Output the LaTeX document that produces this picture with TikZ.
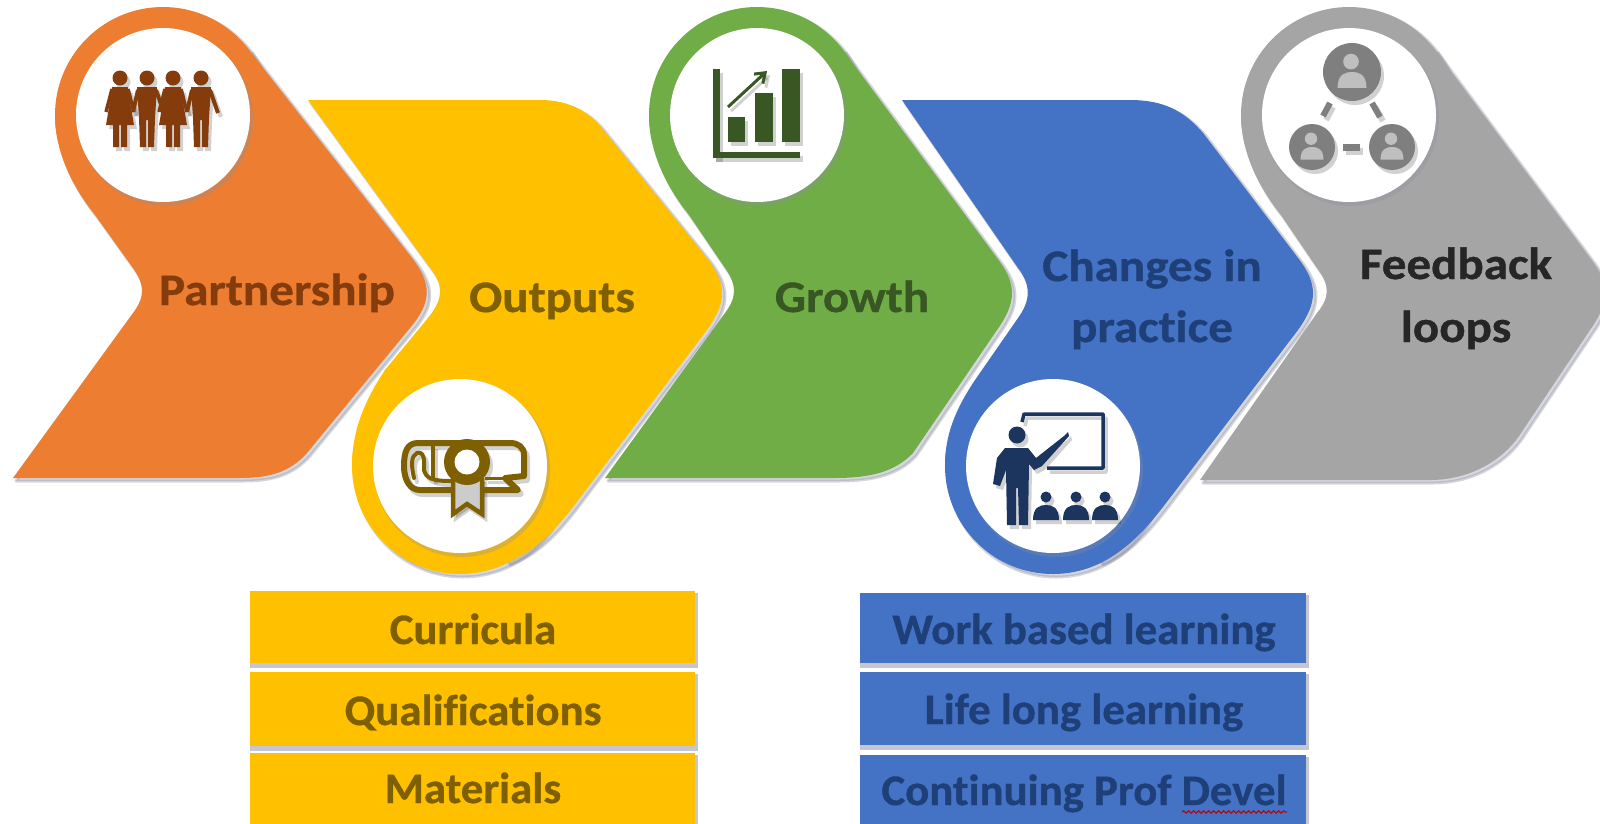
\documentclass[tikz,border=0pt]{standalone}
\usepackage{fontspec}
\setmainfont{Carlito}
\newfontfamily\bigface{Carlito}[Ligatures=NoCommon,BoldFeatures={FakeBold=0.8,FakeStretch=1.09}]
\newfontfamily\listface{Carlito}[Ligatures=NoCommon,BoldFeatures={FakeBold=0.8,FakeStretch=1.03}]
\usetikzlibrary{decorations.pathmorphing,arrows.meta}
\definecolor{corange}{HTML}{ED7D31}\definecolor{dorange}{HTML}{843C0C}
\definecolor{cyellow}{HTML}{FFC000}\definecolor{dyellow}{HTML}{7F6000}
\definecolor{cgreen}{HTML}{70AD47}\definecolor{dgreen}{HTML}{385723}
\definecolor{cblue}{HTML}{4472C4}\definecolor{dblue}{HTML}{1F3F78}
\definecolor{navy}{HTML}{1B355F}
\definecolor{cgray}{HTML}{A5A5A5}\definecolor{dgray}{HTML}{7F7F7F}
\definecolor{shad}{HTML}{8C8FA0}
\tikzset{
 biglabel/.style={anchor=base,font=\bigface\fontsize{45}{45}\selectfont\bfseries,inner sep=0pt},
 listlabel/.style={anchor=base,font=\listface\fontsize{43.5}{44}\selectfont\bfseries,inner sep=0pt},
 softshadow/.style={draw=shad,fill=shad,line width=3pt,opacity=.35,line join=round},
}
% colour, cx, cy, body path
\newcommand{\pinshape}[4]{%
 \begin{scope}[shift={(3,3)}]
  \path[softshadow] #4 -- cycle;
  \path[softshadow] (#2,#3) circle[radius=108];
 \end{scope}
 \fill[#1] #4 -- cycle;
 \fill[#1] (#2,#3) circle[radius=108];
 \fill[shad,opacity=.3] (#2+2,#3+3) circle[radius=88];
 \fill[white] (#2,#3) circle[radius=87];
}
\newcommand{\listbox}[5]{% color, x1,y1,x2,y2
 \fill[shad,opacity=.5] (#2,#3+2) rectangle (#4+3,#5+5);
 \fill[#1] (#2,#3) rectangle (#4,#5);
}
\newcommand{\figfemale}[2]{%
 \fill[#2] (#1,78) circle[radius=7.5];
 \fill[#2] (#1-8,87) -- (#1+8,87) -- (#1+9,96) -- (#1+14,125) -- (#1+7,125) -- (#1+7,147) -- (#1+1,147) -- (#1+1,125) -- (#1-1,125) -- (#1-1,147) -- (#1-7,147) -- (#1-7,125) -- (#1-14,125) -- (#1-9,96) -- cycle;
 \draw[#2,line width=3.5pt] (#1-8,89) -- (#1-14,112);
 \draw[#2,line width=3.5pt] (#1+8,89) -- (#1+14,112);
}
\newcommand{\figmale}[2]{%
 \fill[#2] (#1,78) circle[radius=7.5];
 \fill[#2] (#1-10,87) -- (#1+10,87) -- (#1+8,118) -- (#1+7,147) -- (#1+1,147) -- (#1+1,120) -- (#1-1,120) -- (#1-1,147) -- (#1-7,147) -- (#1-8,118) -- cycle;
 \draw[#2,line width=4pt] (#1-9,90) -- (#1-14,112);
 \draw[#2,line width=4pt] (#1+9,90) -- (#1+17,113);
}
\newcommand{\iconpeople}[1]{%
 \figfemale{120}{#1}\figmale{147}{#1}\figfemale{173}{#1}\figmale{201}{#1}%
}
\newcommand{\icondiploma}[2]{%
 \draw[#1,line width=6pt,line join=round,line cap=round]
   (468,443) -- (418,443) .. controls (407,443) and (404,452) .. (404,466) .. controls (404,480) and (410,490) .. (420,490) -- (518,490) -- (505,478) -- (524,476) -- (524,455) .. controls (524,447) and (518,443) .. (510,443) -- (468,443);
 \draw[#1,line width=4pt,line cap=round] (414,478) .. controls (411,465) and (411,456) .. (417,453) .. controls (423,451) and (425,458) .. (424,470) .. controls (426,478) and (432,481) .. (450,481);
 \draw[#1,line width=4pt] (433,445) -- (433,480);
 \draw[#1,line width=3pt] (485,478) -- (505,478);
 \draw[#1,line width=4.5pt,line join=miter,fill=#2] (453,478) -- (453,514) -- (467,504) -- (482,514) -- (482,478);
 \fill[#1] (467,462) circle[radius=23];
 \fill[white] (467,462) circle[radius=12.5];
}
\newcommand{\iconchart}[1]{%
 \fill[#1] (713,69) rectangle (720,158);
 \fill[#1] (713,152) rectangle (800,158);
 \fill[#1] (728,117) rectangle (745,142);
 \fill[#1] (755,93) rectangle (773,142);
 \fill[#1] (782,69) rectangle (800,142);
 \draw[#1,line width=3pt,-{Straight Barb[length=9pt,width=13pt]}] (728,107) -- (767,71);
}
\newcommand{\iconteacher}[1]{%
 \draw[#1,line width=3.5pt,line join=round] (1022,422) -- (1024,414) -- (1103,414) -- (1103,468) -- (1047,468);
 \fill[#1] (1017,435) circle[radius=8.5];
 \fill[#1] (1005,448) -- (1028,448) -- (1036,458) -- (1064,436) -- (1068,432) -- (1069,436) -- (1042,466) -- (1034,470) -- (1029,464) -- (1028,525) -- (1019,525) -- (1018,488) -- (1016,488) -- (1016,525) -- (1007,525) -- (1006,470) -- (1000,486) -- (993,484) -- (997,458) -- cycle;
 \foreach \hx in {1046,1076,1105}{
  \fill[#1] (\hx,497) circle[radius=5.5];
  \fill[#1] (\hx-13,520) .. controls (\hx-13,507) and (\hx-6,505) .. (\hx,505) .. controls (\hx+6,505) and (\hx+13,507) .. (\hx+13,520) -- cycle;
 }
}
\newcommand{\commperson}[4]{% x,y,r,colour
 \fill[#4] (#1,#2) circle[radius=#3];
 \fill[dgray!50!white] (#1-1,#2-#3*0.36) circle[radius=#3*0.27];
 \fill[dgray!50!white] (#1-#3*0.5,#2+#3*0.55) .. controls (#1-#3*0.5,#2+#3*0.05) and (#1-#3*0.2,#2) .. (#1,#2) .. controls (#1+#3*0.2,#2) and (#1+#3*0.5,#2+#3*0.05) .. (#1+#3*0.5,#2+#3*0.55) -- cycle;
}
\newcommand{\iconfeedback}[1]{%
 \commperson{1352}{72}{29}{#1}\commperson{1312}{147}{23}{#1}\commperson{1392}{147}{23}{#1}
 \draw[#1,line width=6pt] (1330,103) -- (1323,116);
 \draw[#1,line width=6pt] (1372,103) -- (1380,117);
 \draw[#1,line width=7pt] (1343,147) -- (1360,147);
}
\begin{document}
\begin{tikzpicture}[x=1pt,y=-1pt]
\useasboundingbox (0,0) rectangle (1600,823);
\clip (0,0) rectangle (1600,823);
\fill[white] (0,0) rectangle (1600,823);
% chevrons, back to front
\pinshape{cgray}{1349}{115}{(1435,50) -- (1590,258) .. controls (1610,284) and (1610,302) .. (1590,330) -- (1523,430) .. controls (1505,460) and (1470,480) .. (1430,480) -- (1200,480) -- (1317,313) .. controls (1330,297) and (1330,285) .. (1317,268) -- (1281,215) .. controls (1261,190) and (1241,155) .. (1241,115) -- (1349,115)}
\pinshape{cblue}{1053}{466}{(902,100) -- (1130,100) .. controls (1165,100) and (1185,112) .. (1203,133) -- (1298,258) .. controls (1318,284) and (1318,302) .. (1298,330) -- (1163,507) .. controls (1145,530) and (1125,552) .. (1100,562) -- (1053,466) -- (945,466) .. controls (945,435) and (955,410) .. (975,380) -- (1018,318) .. controls (1031,300) and (1031,285) .. (1018,268)}
\pinshape{cgreen}{757}{115}{(843,50) -- (997,258) .. controls (1017,284) and (1017,302) .. (997,330) -- (913,453) .. controls (895,472) and (870,478) .. (835,478) -- (605,478) -- (725,313) .. controls (737,297) and (737,285) .. (725,268) -- (689,215) .. controls (669,190) and (649,155) .. (649,115) -- (757,115)}
\pinshape{cyellow}{460}{466}{(308,100) -- (540,100) .. controls (570,100) and (590,112) .. (605,132) -- (707,258) .. controls (727,284) and (727,302) .. (707,330) -- (573,507) .. controls (555,530) and (535,552) .. (507,562) -- (460,466) -- (352,466) .. controls (352,430) and (365,400) .. (385,370) -- (428,318) .. controls (444,298) and (444,285) .. (428,265)}
\pinshape{corange}{163}{115}{(249,50) -- (412,258) .. controls (432,284) and (432,302) .. (410,328) -- (307,453) .. controls (290,472) and (270,478) .. (240,478) -- (13,478) -- (133,313) .. controls (145,297) and (145,285) .. (133,268) -- (95,215) .. controls (75,190) and (55,155) .. (55,115) -- (163,115)}
% icon shadows
\begin{scope}[shift={(3,4)},opacity=.18]
 \iconpeople{black}\iconchart{black}\icondiploma{black}{black}\iconfeedback{black}\iconteacher{black}
\end{scope}
\iconpeople{dorange}
\icondiploma{dyellow}{white!80!black}
\iconchart{dgreen}
\iconteacher{navy}
\iconfeedback{dgray}
% chevron labels
\node[biglabel,text=dorange] (partnership) at (277,305) {Partnership};
\node[biglabel,text=dyellow] (outputs) at (552,312) {Outputs};
\node[biglabel,text=dgreen] (growth) at (852,312) {Growth};
\node[biglabel,text=dblue] (changes) at (1152,281) {Changes in};
\node[biglabel,text=dblue] (practice) at (1152,342) {practice};
\node[biglabel,text=black!85] (feedback) at (1456,279) {Feedback};
\node[biglabel,text=black!85] (loops) at (1456,342) {loops};
% list boxes
\listbox{cyellow}{250}{591}{695}{663}
\listbox{cyellow}{250}{672}{695}{746}
\listbox{cyellow}{250}{753}{695}{830}
\listbox{cblue}{860}{593}{1306}{663}
\listbox{cblue}{860}{672}{1306}{745}
\listbox{cblue}{860}{755}{1306}{830}
\node[listlabel,text=dyellow] (curricula) at (473,644) {Curricula};
\node[listlabel,text=dyellow] (qualifications) at (473,725) {Qualifications};
\node[listlabel,text=dyellow] (materials) at (473,803) {Materials};
\node[listlabel,text=dblue] (workbased) at (1084,644) {Work based learning};
\node[listlabel,text=dblue] (lifelong) at (1084,724) {Life long learning};
\node[listlabel,text=dblue] (continuing) at (1084,805) {Continuing Prof Devel};
\coordinate (squigA) at (1182,812);
\coordinate (squigB) at (1287,812);
\draw[red!75!black,line width=1pt,decorate,decoration={snake,amplitude=1.3pt,segment length=5pt}] (squigA) -- (squigB);
\end{tikzpicture}
\end{document}
